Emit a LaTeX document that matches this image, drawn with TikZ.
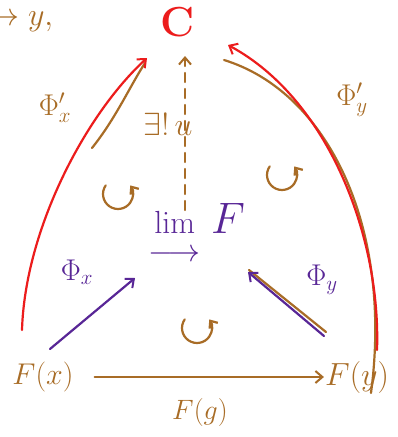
\documentclass[tikz,border=0pt]{standalone}
\usepackage{fix-cm}
\usetikzlibrary{arrows.meta,calc}
\definecolor{brn}{RGB}{168,108,38}
\definecolor{rd}{RGB}{236,28,28}
\definecolor{prp}{RGB}{88,38,150}
\newcommand\colimsym{\mathop{\vtop{\halign{\hfil##\hfil\cr$\mathrm{lim}$\cr\noalign{\kern-4pt}$\longrightarrow$\cr}}}}
\tikzset{
  lbl/.style={inner sep=1pt},
  hand/.style={line width=2.2pt, line cap=round, line join=round},
  barb/.style={-{Straight Barb[length=7pt,width=12pt,line width=2pt]}},
  cyc/.pic={\draw[hand,brn,-{Straight Barb[length=6pt,width=10pt]}] (215:15) arc[start angle=215,end angle=-35,radius=15];}
}
\begin{document}
\begin{tikzpicture}[x=1pt,y=-1pt]
\useasboundingbox (0,0) rectangle (397,437);
\fill[white] (0,0) rectangle (397,437);

% nodes
\node[lbl,rd,font=\fontsize{42}{42}\selectfont\bfseries] (C) at (178,22) {C};
\node[lbl,prp,font=\fontsize{32}{32}\selectfont] (L) at (197,232) {$\colimsym\,\mbox{\fontsize{44}{44}\selectfont$F$}$};
\node[lbl,brn,font=\fontsize{30}{30}\selectfont] (Fx) at (43,377) {$F(x)$};
\node[lbl,brn,font=\fontsize{32}{32}\selectfont] (Fy) at (357,377) {$F(y)$};
\node[lbl,brn,anchor=west,font=\fontsize{32}{32}\selectfont] (TL) at (-14,22) {$\to y,$};

% labels
\node[lbl,brn,font=\fontsize{28}{28}\selectfont] (Fg) at (200,412) {$F(g)$};
\node[lbl,brn,font=\fontsize{32}{32}\selectfont] (U) at (168,124) {$\exists!\,u$};
\node[lbl,brn,font=\fontsize{30}{30}\selectfont] (Px2) at (55,108) {$\Phi'_x$};
\node[lbl,brn,font=\fontsize{30}{30}\selectfont] (Py2) at (352,100) {$\Phi'_y$};
\node[lbl,prp,font=\fontsize{30}{30}\selectfont] (Px) at (77,272) {$\Phi_x$};
\node[lbl,prp,font=\fontsize{30}{30}\selectfont] (Py) at (322,280) {$\Phi_y$};

% commutation marks
\pic at (118,194) {cyc};
\pic at (282,175) {cyc};
\pic at (197,328) {cyc};

% F(g)
\draw[hand,brn,barb,shorten <=20pt] (Fx) -- (Fy);

% unique arrow
\draw[hand,brn,barb,dash pattern=on 9pt off 7pt] ($(L)+(-12,-22)$) -- ($(C)+(7,34)$);

% cone to the limit
\draw[hand,prp,barb] ($(Fx)+(7,-28)$) -- ($(L)+(-62,46)$);
\draw[hand,brn] ($(Fy)+(-31,-45)$) -- ($(L)+(52,38)$);
\draw[hand,prp,barb] ($(Fy)+(-33,-41)$) -- ($(L)+(51,40)$);

% cone to C
\draw[hand,brn] ($(C)+(-86,126)$) .. controls ($(C)+(-62,96)$) and ($(C)+(-48,64)$) .. ($(C)+(-33,41)$);
\draw[hand,rd,barb] ($(Fx)+(-21,-47)$) .. controls ($(Fx)+(-18,-147)$) and ($(C)+(-93,93)$) .. ($(C)+(-31,36)$);

\draw[hand,brn] ($(Fy)+(14,16)$) .. controls ($(Fy)+(36,-150)$) and ($(C)+(150,70)$) .. ($(C)+(46,38)$);
\draw[hand,rd,barb] ($(Fy)+(20,-27)$) .. controls ($(Fy)+(24,-137)$) and ($(C)+(152,78)$) .. ($(C)+(50,23)$);
\end{tikzpicture}
\end{document}
